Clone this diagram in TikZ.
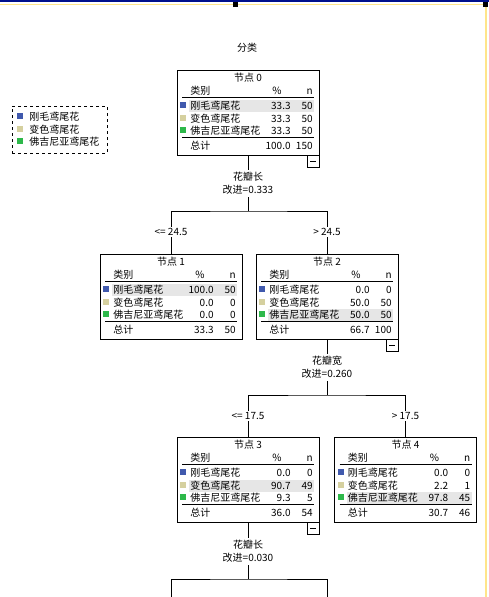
\documentclass[tikz,border=0pt]{standalone}
\usepackage{fontspec}
\setmainfont{Noto Sans CJK SC}
\usetikzlibrary{positioning,calc}
\definecolor{iris1}{HTML}{4059AD}
\definecolor{iris2}{HTML}{D5D09F}
\definecolor{iris3}{HTML}{2DB84A}
\definecolor{hlgrey}{HTML}{E6E6E6}
\definecolor{frameblue}{HTML}{00108C}
\definecolor{frameyellow}{HTML}{FFE58A}

\newcommand\catname[1]{\ifcase#1\or 刚毛鸢尾花\or 变色鸢尾花\or 佛吉尼亚鸢尾花\fi}
% name, top left corner, title, highlighted row, rows %/n, total %, total n
\newcommand\irisbox[7]{%
  \begin{scope}[shift={#2}]
    \node[treebox] (#1) at (71,42.5) {};
    \node[txt] (#1t) at (71,8) {#3};
    \node[txt,anchor=west] (#1h) at (13,21) {类别};
    \node[txt] at (100,21) {\%};
    \node[txt,anchor=east] at (136,21) {n};
    \draw (5,27) -- (137,27);
    \foreach \p/\n [count=\i, evaluate=\i as \y using 23.5+12.5*\i] in {#5} {
      \ifnum\i=#4 \fill[hlgrey] (12,\y-6) rectangle (137,\y+6); \fi
      \fill[iris\i] (3,\y-4) rectangle (9,\y+2);
      \node[txt,anchor=west] at (13,\y) {\catname{\i}};
      \node[txt,anchor=east] at (114,\y) {\p};
      \node[txt,anchor=east] at (136,\y) {\n};
    }
    \draw (5,67) -- (137,67);
    \node[txt,anchor=west] at (13,76) {总计};
    \node[txt,anchor=east] at (114,76) {#6};
    \node[txt,anchor=east] at (136,76) {#7};
  \end{scope}}
\newcommand\minusbox[1]{%
  \node[minus,anchor=north east] (#1m) at (#1.south east) {};
  \draw ([xshift=-3pt]#1m.center) -- ([xshift=3pt]#1m.center);}

\begin{document}
\begin{tikzpicture}[x=1pt,y=-1pt,
    txt/.style={inner sep=0pt,text height=8.5pt,text depth=1.5pt,
                font=\fontsize{10}{13}\selectfont},
    treebox/.style={draw,line width=0.8pt,minimum width=142pt,minimum height=85pt,
                    inner sep=0pt},
    minus/.style={draw,line width=0.8pt,minimum size=12pt,inner sep=0pt},
    split/.style={txt,align=center,text height=,text depth=,inner ysep=2pt},
    cond/.style={txt,fill=white},
    every path/.style={line width=0.8pt}]
  \useasboundingbox (0,0) rectangle (489,597);
  % window frame
  \draw[frameblue,line width=1.2pt] (0,1) -- (489,1);
  \draw[frameyellow,line width=1.2pt] (0,4.5) -- (486,4.5) -- (486,597);
  \fill (233,2) rectangle (238,7);
  \fill (483,2) rectangle (488,7);

  \node[txt] (title) at (247,48) {分类};

  % legend
  \node[draw,dashed,minimum width=95pt,minimum height=47pt] (legend) at (59.5,129.5) {};
  \foreach \i/\y in {1/117,2/129.5,3/142} {
    \fill[iris\i] (17,\y-4) rectangle (23,\y+2);
    \node[txt,anchor=west] (leg\i) at (29,\y) {\catname{\i}};
  }

  % nodes
  \irisbox{n0}{(177,70)}{节点 0}{1}{33.3/50,33.3/50,33.3/50}{100.0}{150}
  \irisbox{n1}{(100,254)}{节点 1}{1}{100.0/50,0.0/0,0.0/0}{33.3}{50}
  \irisbox{n2}{(256,254)}{节点 2}{3}{0.0/0,50.0/50,50.0/50}{66.7}{100}
  \irisbox{n3}{(177,437)}{节点 3}{2}{0.0/0,90.7/49,9.3/5}{36.0}{54}
  \irisbox{n4}{(334.5,437)}{节点 4}{3}{0.0/0,2.2/1,97.8/45}{30.7}{46}
  \minusbox{n0}
  \minusbox{n2}
  \minusbox{n3}

  % splits
  \node[split] (s0) at (248,183.5) {花瓣长\\改进=0.333};
  \node[split] (s1) at (327,367.5) {花瓣宽\\改进=0.260};
  \node[split] (s2) at (248,551.5) {花瓣长\\改进=0.030};
  \node[cond] (c1) at (171,232) {<= 24.5};
  \node[cond] (c2) at (327,232) {> 24.5};
  \node[cond] (c3) at (248,416) {<= 17.5};
  \node[cond] (c4) at (405.5,416) {> 17.5};
  \coordinate (j0) at (248,211);
  \coordinate (j1) at (327,395);
  \coordinate (j2) at (248,579);
  \coordinate (e1) at (171,597);
  \coordinate (e2) at (327,597);

  \draw (n0.south) -- (s0.north);
  \draw (s0.south) -- (j0);
  \draw (c1.north) |- (j0) -| (c2.north);
  \draw (c1.south) -- (n1.north);
  \draw (c2.south) -- (n2.north);
  \draw (n2.south) -- (s1.north);
  \draw (s1.south) -- (j1);
  \draw (c3.north) |- (j1) -| (c4.north);
  \draw (c3.south) -- (n3.north);
  \draw (c4.south) -- (n4.north);
  \draw (n3.south) -- (s2.north);
  \draw (s2.south) -- (j2);
  \draw (e1) |- (j2) -| (e2);
\end{tikzpicture}
\end{document}
